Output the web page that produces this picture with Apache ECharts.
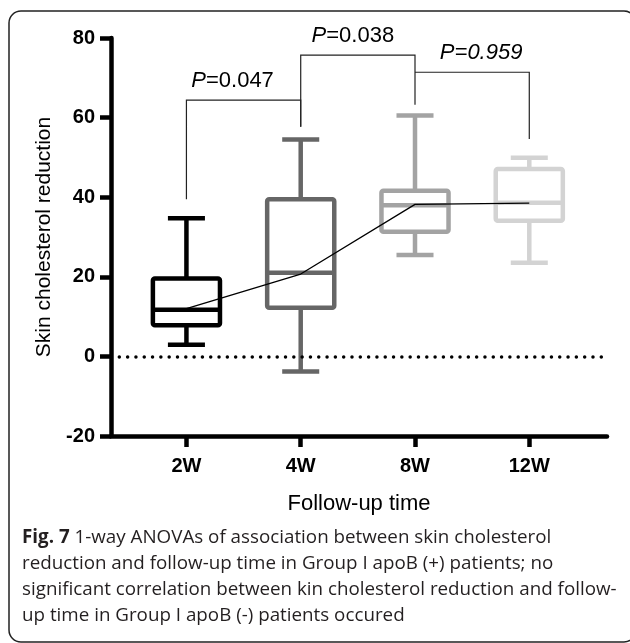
<!DOCTYPE html>
<html>
<head>
<meta charset="UTF-8">
<title>Skin cholesterol reduction vs follow-up time</title>
<script src="https://cdn.jsdelivr.net/npm/echarts@6/dist/echarts.min.js"></script>
<style>
  html, body { margin: 0; padding: 0; background: #fff; }
  #chart { width: 630px; height: 643px; }
</style>
</head>
<body>
<div id="chart"></div>
<script>
// data
var categories = ['2W', '4W', '8W', '12W'];
var whiskerLow = [2.9, -3.8, 25.5, 23.5];
var q1 = [7.8, 12.2, 31.3, 34.1];
var median = [11.7, 21.0, 38.0, 38.6];
var q3 = [19.6, 39.5, 41.6, 47.1];
var whiskerHigh = [34.7, 54.5, 60.5, 49.9];
var meanLine = [12.0, 20.7, 38.2, 38.5];
var yTicks = [-20, 0, 20, 40, 60, 80];

// significance brackets: left group, right group, top, left leg end, right leg end
var bracketPairs = [[1, 2], [2, 3], [3, 4]];
var bracketTop = [64.4, 75.7, 71.4];
var bracketLeftEnd = [39.5, 57.7, 71.4];
var bracketRightEnd = [57.7, 63.2, 54.6];
var pValues = ['0.047', '0.038', '0.959'];

// styles
var boxColors = ['#000000', '#666666', '#a3a3a3', '#d3d3d3'];
var pItalicAll = [false, false, true];
var pShift = [-11, -5, 9];
var font = 'Liberation Sans, Arial, sans-serif';
var capFont = 'Open Sans, Noto Sans, sans-serif';

var boxData = categories.map(function (c, i) {
  return [i + 1, whiskerLow[i], q1[i], median[i], q3[i], whiskerHigh[i]];
});
var meanData = categories.map(function (c, i) { return [i + 1, meanLine[i]]; });
var bracketData = bracketPairs.map(function (p, i) {
  return [p[0], p[1], bracketTop[i], bracketLeftEnd[i], bracketRightEnd[i]];
});

var chart = echarts.init(document.getElementById('chart'));

var option = {
  animation: false,
  backgroundColor: '#fff',
  title: {
    left: 22,
    top: 525,
    padding: 0,
    text: '{b|Fig. 7} 1-way ANOVAs of association between skin cholesterol\n' +
      'reduction and follow-up time in Group I apoB (+) patients; no\n' +
      'significant correlation between kin cholesterol reduction and follow-\n' +
      'up time in Group I apoB (-) patients occured',
    textStyle: {
      fontFamily: capFont,
      fontSize: 18.8,
      fontWeight: 'normal',
      color: '#231f20',
      lineHeight: 26,
      rich: {
        b: { fontFamily: capFont, fontSize: 18.8, fontWeight: 'bold', color: '#231f20', lineHeight: 26 }
      }
    }
  },
  graphic: [{
    type: 'rect',
    shape: { x: 9, y: 11, width: 627, height: 631, r: 12 },
    style: { stroke: '#222', fill: 'none', lineWidth: 1.5 },
    silent: true
  }],
  grid: { left: 111, top: 38, right: 23, bottom: 207, outerBoundsMode: 'none' },
  xAxis: {
    type: 'value',
    min: 0.34,
    max: 4.68,
    name: 'Follow-up time',
    nameLocation: 'middle',
    nameGap: 57,
    nameTextStyle: { fontFamily: font, fontSize: 22, color: '#000' },
    axisLine: { onZero: false, lineStyle: { color: '#000', width: 4.5 } },
    axisTick: { customValues: [1, 2, 3, 4], length: 11, lineStyle: { color: '#000', width: 4.5 } },
    axisLabel: {
      customValues: [1, 2, 3, 4],
      formatter: function (v) { return categories[Math.round(v) - 1]; },
      fontFamily: font, fontSize: 20, fontWeight: 'bold', color: '#000', margin: 20
    },
    splitLine: { show: false }
  },
  yAxis: {
    type: 'value',
    min: yTicks[0],
    max: yTicks[yTicks.length - 1],
    interval: 20,
    name: 'Skin cholesterol reduction',
    nameLocation: 'middle',
    nameGap: 56,
    nameTextStyle: { fontFamily: font, fontSize: 21, color: '#000' },
    axisLine: { show: true, onZero: false, lineStyle: { color: '#000', width: 4.5 } },
    axisTick: { show: true, length: 11, lineStyle: { color: '#000', width: 4.5 } },
    axisLabel: { fontFamily: font, fontSize: 20, fontWeight: 'bold', color: '#000', margin: 16 },
    splitLine: { show: false }
  },
  series: [
    {
      type: 'custom',
      name: 'box',
      z: 3,
      data: boxData,
      encode: { x: 0, y: [1, 2, 3, 4, 5] },
      renderItem: function (params, api) {
        var x = api.value(0);
        var c = boxColors[params.dataIndex];
        var pLow = api.coord([x, api.value(1)]);
        var pQ1 = api.coord([x, api.value(2)]);
        var pMed = api.coord([x, api.value(3)]);
        var pQ3 = api.coord([x, api.value(4)]);
        var pHigh = api.coord([x, api.value(5)]);
        var bw = api.size([0.587, 0])[0];
        var cw = api.size([0.324, 0])[0];
        var cx = pLow[0];
        var lw = 4.5;
        var st = { stroke: c, lineWidth: lw, fill: 'none' };
        return {
          type: 'group',
          children: [
            { type: 'line', shape: { x1: cx, y1: pQ3[1], x2: cx, y2: pHigh[1] }, style: st },
            { type: 'line', shape: { x1: cx, y1: pQ1[1], x2: cx, y2: pLow[1] }, style: st },
            { type: 'line', shape: { x1: cx - cw / 2, y1: pHigh[1], x2: cx + cw / 2, y2: pHigh[1] }, style: st },
            { type: 'line', shape: { x1: cx - cw / 2, y1: pLow[1], x2: cx + cw / 2, y2: pLow[1] }, style: st },
            { type: 'rect', shape: { x: cx - bw / 2, y: pQ3[1], width: bw, height: pQ1[1] - pQ3[1], r: 2 }, style: st },
            { type: 'line', shape: { x1: cx - bw / 2, y1: pMed[1], x2: cx + bw / 2, y2: pMed[1] }, style: st }
          ]
        };
      }
    },
    {
      type: 'line',
      name: 'mean',
      z: 5,
      data: meanData,
      symbol: 'none',
      lineStyle: { color: '#000', width: 1.3 },
      markLine: {
        silent: true,
        symbol: ['none', 'none'],
        label: { show: false },
        lineStyle: { color: '#000', width: 3.5, type: [0.01, 8.3], cap: 'round' },
        data: [{ yAxis: 0 }]
      }
    },
    {
      type: 'custom',
      name: 'brackets',
      z: 6,
      data: bracketData,
      encode: { x: [0, 1], y: [2, 3, 4] },
      renderItem: function (params, api) {
        var i = params.dataIndex;
        var a = api.coord([api.value(0), api.value(3)]);
        var b = api.coord([api.value(0), api.value(2)]);
        var c = api.coord([api.value(1), api.value(2)]);
        var d = api.coord([api.value(1), api.value(4)]);
        var txt = pItalicAll[i] ? '{i|P=' + pValues[i] + '}' : '{i|P}{n|=' + pValues[i] + '}';
        return {
          type: 'group',
          children: [
            { type: 'polyline', shape: { points: [a, b, c, d] }, style: { stroke: '#222', lineWidth: 1.2, fill: 'none' } },
            {
              type: 'text',
              style: {
                text: txt,
                x: (b[0] + c[0]) / 2 + pShift[i],
                y: b[1] - 19,
                align: 'center',
                verticalAlign: 'middle',
                fill: '#000',
                rich: {
                  i: { fontFamily: font, fontSize: 22, fontStyle: 'italic', fill: '#000' },
                  n: { fontFamily: font, fontSize: 22, fill: '#000' }
                }
              }
            }
          ]
        };
      }
    }
  ]
};

chart.setOption(option);
</script>
</body>
</html>
